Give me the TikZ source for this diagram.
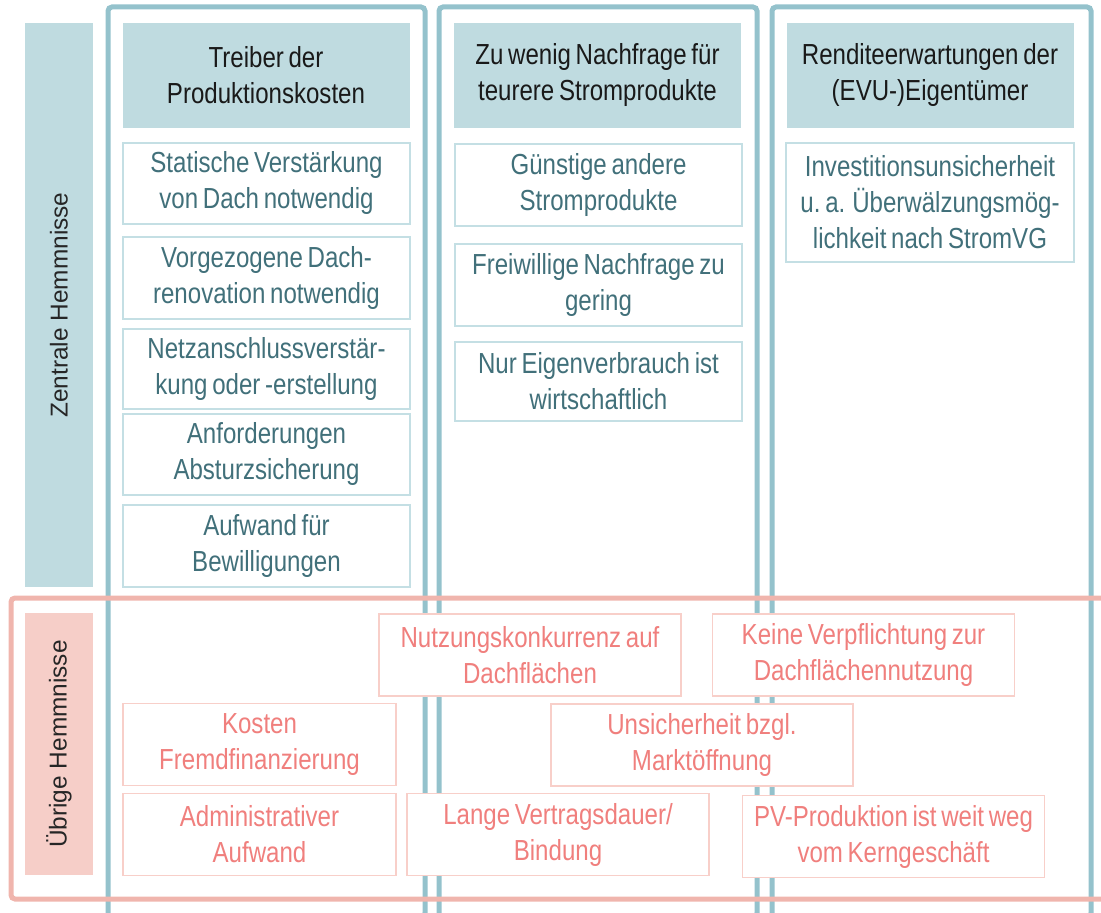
\documentclass[tikz,border=0pt]{standalone}
\usepackage{fontspec}
\setmainfont[FakeStretch=0.83,WordSpace=0.7]{Liberation Sans}
\newfontfamily\sidefont{Liberation Sans}
\usetikzlibrary{positioning}
\definecolor{frameblue}{HTML}{94C2CC}
\definecolor{framepink}{HTML}{F0B5AD}
\definecolor{headblue}{HTML}{BFDBE0}
\definecolor{sidepink}{HTML}{F6CEC8}
\definecolor{itemline}{HTML}{C4DFE4}
\definecolor{itemtext}{HTML}{41707A}
\definecolor{otherline}{HTML}{F8CFC9}
\definecolor{othertext}{HTML}{F07F7D}

\begin{document}
\begin{tikzpicture}[x=0.5pt,y=-0.5pt,
  font=\fontsize{14.5}{18}\selectfont,
  col/.style={draw=frameblue,line width=2.5pt,rounded corners=2pt},
  grp/.style={draw=framepink,line width=2.5pt,rounded corners=2pt},
  head/.style={fill=headblue,align=center,text=black!90,minimum width=143.5pt,minimum height=52.5pt},
  item/.style={draw=itemline,fill=white,line width=0.6pt,align=center,text=itemtext,minimum width=143.5pt},
  other/.style={draw=otherline,fill=white,line width=0.7pt,align=center,text=othertext,minimum width=151pt,minimum height=41pt},
  side/.style={rotate=90,align=center,text=black!85,minimum height=34pt,font=\sidefont\fontsize{12.2}{14}\selectfont}]
\useasboundingbox (0,0) rectangle (1101,913);

% column frames
\draw[col] (108,7) rectangle (425,917);
\draw[col] (439,7) rectangle (757,917);
\draw[col] (772,7) rectangle (1091,917);
% frame of the other obstacles
\draw[grp] (11,598) rectangle (1115,899);

% row labels
\node[side,fill=headblue,minimum width=282pt] (zentral) at (59,305) {Zentrale Hemmnisse};
\node[side,fill=sidepink,minimum width=131pt] (uebrig) at (59,744) {Übrige Hemmnisse};

% headers
\node[head] (kosten) at (266,75.5) {Treiber der\\Produktionskosten};
\node[head] (nachfrage) at (597.5,75.5) {Zu wenig Nachfrage für\\teurere Stromprodukte};
\node[head] (rendite) at (930,75.5) {Renditeerwartungen der\\(EVU-)Eigentümer};

% column 1
\node[item,minimum height=40.5pt] (statik) at (266.5,183.5) {Statische Verstärkung\\von Dach notwendig};
\node[item,minimum height=41pt] (dach) at (266.5,278) {Vorgezogene Dach-\\renovation notwendig};
\node[item,minimum height=40pt] (netz) at (266.5,369) {Netzanschlussverstär-\\kung oder -erstellung};
\node[item,minimum height=40.5pt] (absturz) at (266.5,454.5) {Anforderungen\\Absturzsicherung};
\node[item,minimum height=41pt] (bewill) at (266.5,546) {Aufwand für\\Bewilligungen};

% column 2
\node[item,minimum height=41pt] (guenstig) at (598.5,185) {Günstige andere\\Stromprodukte};
\node[item,minimum height=41pt] (freiw) at (598.5,285) {Freiwillige Nachfrage zu\\gering};
\node[item,minimum height=39.5pt] (eigen) at (598.5,381.5) {Nur Eigenverbrauch ist\\wirtschaftlich};

% column 3
\node[item,minimum width=144pt,minimum height=59.5pt] (invest) at (930,202.5)
  {Investitionsunsicherheit\\u.\,a. Überwälzungsmög-\\lichkeit nach StromVG};

% other obstacles
\node[other] (konkurrenz) at (530,655) {Nutzungskonkurrenz auf\\Dachflächen};
\node[other] (pflicht) at (863.5,655) {Keine Verpflichtung zur\\Dachflächennutzung};
\node[other,minimum width=136.5pt] (fremd) at (259.5,744.5) {Kosten\\Fremdfinanzierung};
\node[other] (markt) at (702,745) {Unsicherheit bzgl.\\Marktöffnung};
\node[other,minimum width=136.5pt] (admin) at (259.5,834.5) {Administrativer\\Aufwand};
\node[other] (vertrag) at (558,834.5) {Lange Vertragsdauer/\\Bindung};
\node[other] (kern) at (893.5,836.5) {PV-Produktion ist weit weg\\vom Kerngeschäft};
\end{tikzpicture}
\end{document}
